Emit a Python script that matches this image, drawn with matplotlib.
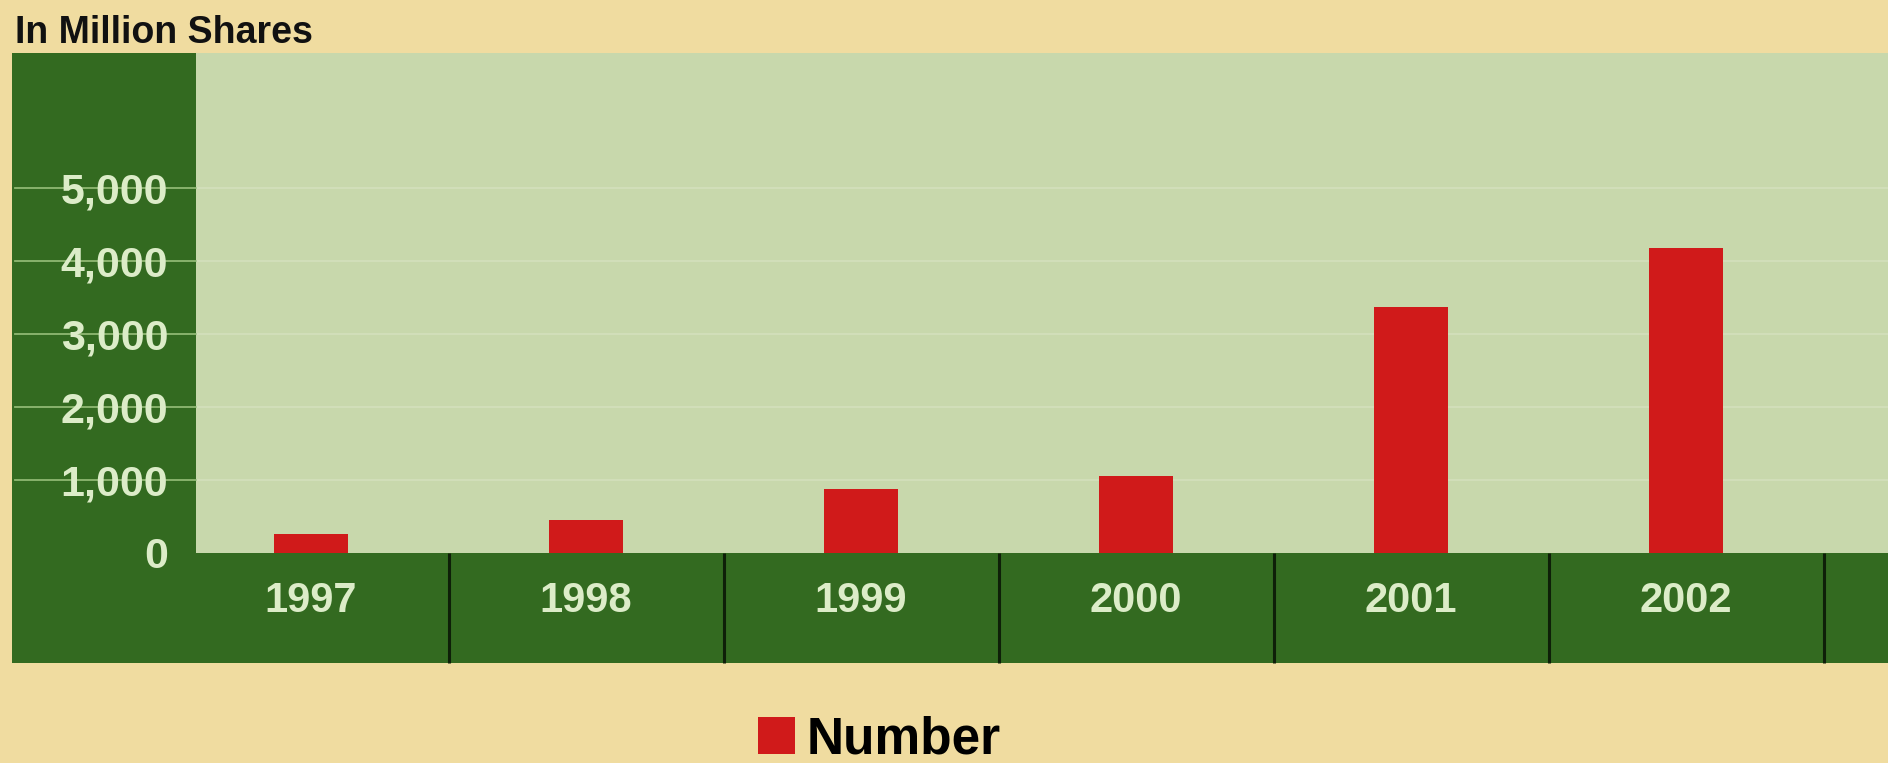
import matplotlib
matplotlib.use("Agg")
import matplotlib.pyplot as plt
import matplotlib.transforms as mtransforms
from matplotlib.patches import Rectangle, Patch

plt.rcParams["font.family"] = ["Liberation Sans", "DejaVu Sans"]

# data (million shares)
years = ["1997", "1998", "1999", "2000", "2001", "2002"]
number = [260, 450, 880, 1050, 3370, 4180]
ytick_vals = [0, 1000, 2000, 3000, 4000, 5000]
ytick_labels = ["0", "1,000", "2,000", "3,000", "4,000", "5,000"]

BG = "#f0dca0"
DARK = "#336a20"
LIGHT = "#c8d8ac"
RED = "#d01a1a"
TXT = "#dcecc8"

W, H = 1888, 763


def fx(px):
    return px / W


def fy(py):
    return 1 - py / H


fig = plt.figure(figsize=(W / 100, H / 100), dpi=100)
fig.patch.set_facecolor(BG)

# dark green frame behind the plot area (runs off the right edge like the scan)
fig.add_artist(Rectangle((fx(12), fy(663)), 1.0, fy(53) - fy(663),
                         transform=fig.transFigure, facecolor=DARK,
                         edgecolor="none", zorder=-1))

ax = fig.add_axes([fx(196), fy(553), fx(1888) - fx(196), fy(53) - fy(553)])
ax.set_facecolor(LIGHT)
for s in ax.spines.values():
    s.set_visible(False)

xs = list(range(len(years)))
ax.bar(xs, number, width=0.27, color=RED, zorder=3)

# category centre 0 sits at x=311px, 275px per category
ax.set_xlim((196 - 311) / 275, (1888 - 311) / 275)
ax.set_ylim(0, 500 / 73 * 1000)

ax.set_xticks(xs)
ax.set_xticklabels(years, fontsize=30, fontweight="bold", color=TXT)
ax.tick_params(axis="x", which="major", length=0, pad=20)
ax.set_xticks([i + 0.5 for i in xs], minor=True)
ax.tick_params(axis="x", which="minor", length=79, width=2.2,
               color="#0e1f08", direction="out")

ax.set_yticks(ytick_vals)
ax.set_yticklabels(ytick_labels, fontsize=31, fontweight="bold", color=TXT)
ax.tick_params(axis="y", length=0, pad=20)

# grid lines: visible across the dark column, faint in the light panel
blend = mtransforms.blended_transform_factory(ax.transAxes, ax.transData)
for v in ytick_vals[1:]:
    ax.plot([-0.107, 0], [v, v], transform=blend, clip_on=False,
            color="#8fb872", lw=1.3, zorder=1)
    ax.axhline(v, color="white", alpha=0.2, lw=1.2, zorder=1)

fig.text(fx(15), fy(33), "In Million Shares", fontsize=27, fontweight="bold",
         color="#111111", ha="left", va="center")

fig.legend(handles=[Patch(facecolor=RED, label="Number")],
           loc="center left", bbox_to_anchor=(fx(758), fy(740)),
           frameon=False, prop={"size": 37, "weight": "bold"},
           handlelength=0.72, handleheight=0.72, handletextpad=0.23,
           borderpad=0, borderaxespad=0)

fig.savefig("out.png", dpi=100, facecolor=BG)
